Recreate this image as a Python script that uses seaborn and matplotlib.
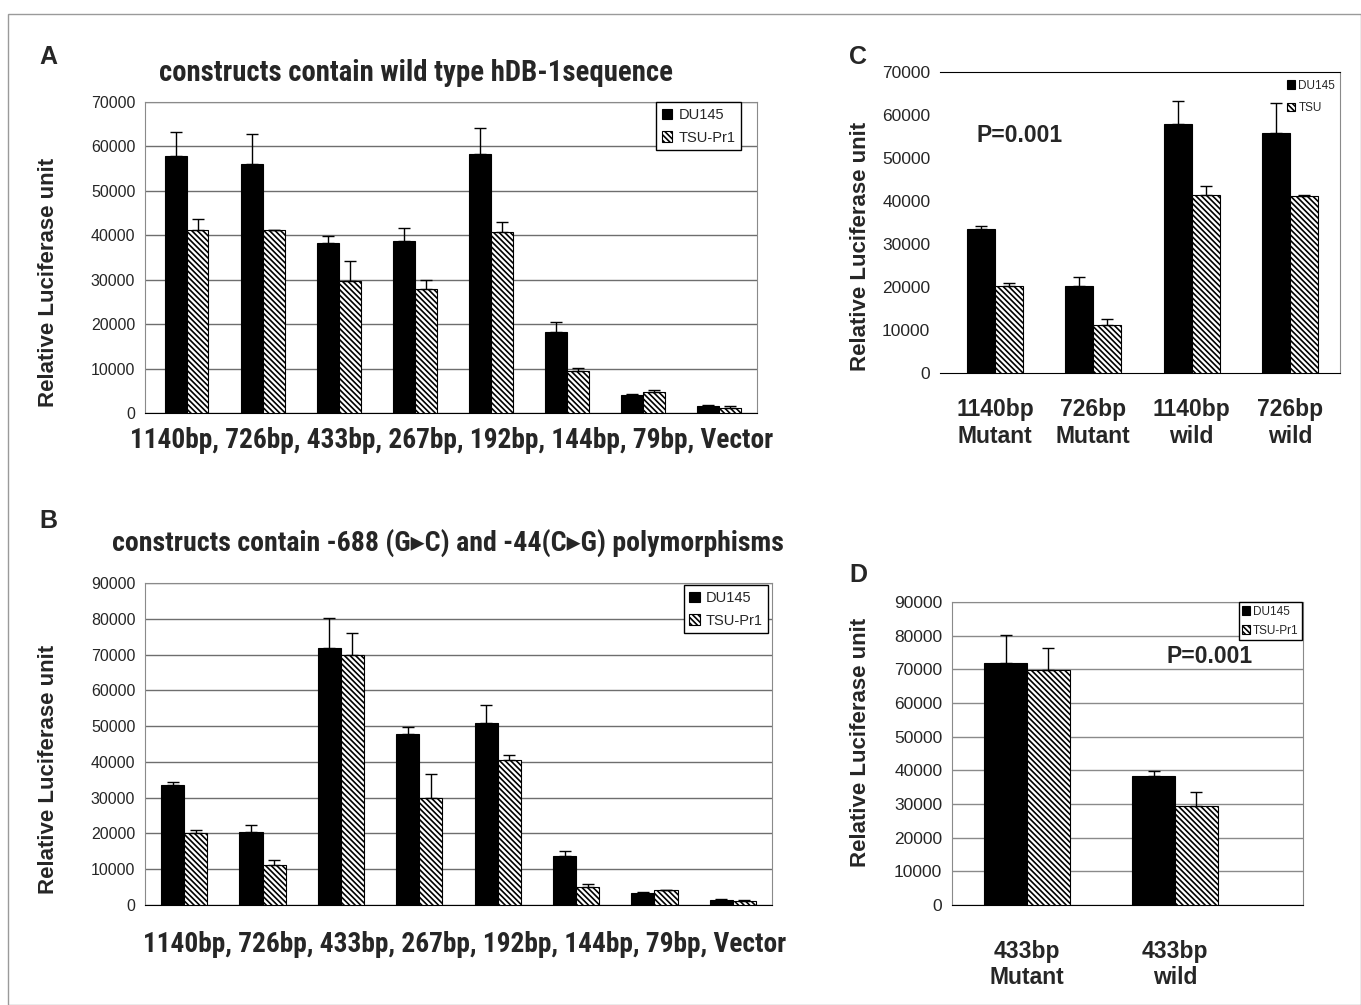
import numpy as np
import pandas as pd
import matplotlib.pyplot as plt
import seaborn as sns
from matplotlib import font_manager
from matplotlib.patches import Rectangle

# ---- data ----
constructs = ['1140bp', '726bp', '433bp', '267bp', '192bp', '144bp', '79bp', 'Vector']

a_du145 = [57800, 56000, 38300, 38800, 58200, 18300, 4000, 1600]
a_du145_err = [5500, 6900, 1500, 2800, 6000, 2200, 200, 100]
a_tsu = [41300, 41100, 29800, 27800, 40700, 9400, 4700, 1200]
a_tsu_err = [2400, 200, 4300, 2100, 2300, 800, 400, 300]

b_du145 = [33500, 20300, 71800, 47700, 50900, 13800, 3400, 1400]
b_du145_err = [900, 2100, 8500, 2000, 5000, 1200, 300, 200]
b_tsu = [20000, 11100, 69800, 29900, 40500, 4900, 4100, 1100]
b_tsu_err = [1100, 1400, 6300, 6800, 1500, 1000, 200, 400]

c_groups = ['1140bp\nMutant', '726bp\nMutant', '1140bp\nwild', '726bp\nwild']
c_du145 = [33500, 20200, 57800, 55900]
c_du145_err = [800, 2200, 5500, 7000]
c_tsu = [20200, 11200, 41300, 41100]
c_tsu_err = [800, 1400, 2200, 300]

d_groups = ['433bp\nMutant', '433bp\nwild']
d_du145 = [72000, 38400]
d_du145_err = [8300, 1400]
d_tsu = [69800, 29500]
d_tsu_err = [6500, 4200]

W, H = 1361, 1005

sns.set_style('white')
plt.rcParams['font.family'] = ['Liberation Sans', 'DejaVu Sans']
plt.rcParams['hatch.linewidth'] = 1.2

# narrow bold face for the long titles / x labels (Arial Narrow in the original)
names = {f.name for f in font_manager.fontManager.ttflist}
narrow = None
for cand in ['Liberation Sans Narrow', 'Roboto Condensed', 'Open Sans Condensed']:
    if cand in names:
        narrow = dict(family=[cand, 'DejaVu Sans'])
        break
if narrow is None:
    narrow = dict(family=['DejaVu Sans'], fontstretch='condensed')


def fx(px):
    return px / W


def fy(py):
    return 1 - py / H


def axes_box(left, top, right, bottom):
    return [fx(left), fy(bottom), (right - left) / W, (bottom - top) / H]


def draw_panel(ax, cats, du, du_err, tsu, tsu_err, cells, width):
    df = pd.DataFrame({
        'construct': cats * 2,
        'cell': [cells[0]] * len(cats) + [cells[1]] * len(cats),
        'value': du + tsu,
    })
    sns.barplot(data=df, x='construct', y='value', hue='cell', order=cats,
                hue_order=cells, palette={cells[0]: 'black', cells[1]: 'white'},
                saturation=1, edgecolor='black', linewidth=0.8, width=width,
                errorbar=None, legend=False, ax=ax, zorder=3)
    for bar in ax.containers[1]:
        bar.set_hatch('\\' * 6)
    # Excel style: only the upper half of the error bar
    for cont, errs in zip(list(ax.containers)[:2], [du_err, tsu_err]):
        xs = [b.get_x() + b.get_width() / 2 for b in cont]
        ys = [b.get_height() for b in cont]
        ax.errorbar(xs, ys, yerr=[np.zeros(len(errs)), errs], fmt='none',
                    ecolor='black', elinewidth=1, capsize=4, capthick=1, zorder=4)
    return [ax.containers[0][0], ax.containers[1][0]]


fig = plt.figure(figsize=(W / 100, H / 100), dpi=100)
fig.patches.append(Rectangle((fx(8), 0), 1 - fx(8), fy(14), transform=fig.transFigure,
                             fill=False, edgecolor='#9a9a9a', lw=1))

ylabel_kw = dict(fontsize=16, fontweight='bold')
grey = '#8a8a8a'
xlab_text = '1140bp, 726bp, 433bp, 267bp, 192bp, 144bp, 79bp, Vector'

# ---- A ----
axA = fig.add_axes(axes_box(145, 102, 757, 413))
hA = draw_panel(axA, constructs, a_du145, a_du145_err, a_tsu, a_tsu_err,
                ['DU145', 'TSU-Pr1'], 0.57)
axA.set_ylim(0, 70000)
axA.set_yticks(np.arange(0, 70001, 10000))
axA.set_xlim(-0.55, 7.5)
axA.set_xticks(range(len(constructs)))
axA.set_xticklabels([])
axA.legend(handles=hA, labels=['DU145', 'TSU-Pr1'], loc='upper right',
           bbox_to_anchor=(0.974, 1.0), borderaxespad=0, fancybox=False,
           edgecolor='black', framealpha=1, fontsize=10.5, handlelength=0.7,
           handleheight=0.7, handletextpad=0.4, borderpad=0.4, labelspacing=0.6)
xlabA = fig.text(fx(452), fy(441), xlab_text, ha='center', va='center',
                 fontsize=16, fontweight='bold', **narrow)
axA.set_ylabel('Relative Luciferase unit', **ylabel_kw)
axA.yaxis.set_label_coords(-0.1405, 0.42)
titleA = fig.text(fx(416), fy(73), 'constructs contain wild type hDB-1sequence',
                  ha='center', va='center', fontsize=16, fontweight='bold', **narrow)

# ---- B ----
axB = fig.add_axes(axes_box(145, 583, 772, 905))
hB = draw_panel(axB, constructs, b_du145, b_du145_err, b_tsu, b_tsu_err,
                ['DU145', 'TSU-Pr1'], 0.59)
axB.set_ylim(0, 90000)
axB.set_yticks(np.arange(0, 90001, 10000))
axB.set_xlim(-0.5, 7.5)
axB.set_xticks(range(len(constructs)))
axB.set_xticklabels([])
axB.legend(handles=hB, labels=['DU145', 'TSU-Pr1'], loc='upper right',
           bbox_to_anchor=(0.994, 0.994), borderaxespad=0, fancybox=False,
           edgecolor='black', framealpha=1, fontsize=10.5, handlelength=0.7,
           handleheight=0.7, handletextpad=0.4, borderpad=0.4, labelspacing=0.6)
xlabB = fig.text(fx(465), fy(944), xlab_text, ha='center', va='center',
                 fontsize=16, fontweight='bold', **narrow)
axB.set_ylabel('Relative Luciferase unit', **ylabel_kw)
axB.yaxis.set_label_coords(-0.137, 0.42)
titleB = fig.text(fx(448), fy(543),
                  'constructs contain -688 (G\u25b8C) and -44(C\u25b8G) polymorphisms',
                  ha='center', va='center', fontsize=16, fontweight='bold', **narrow)

for ax in (axA, axB):
    ax.yaxis.grid(True, color='#6e6e6e', lw=1)
    ax.set_axisbelow(True)
    for s in ('left', 'right', 'top'):
        ax.spines[s].set_color(grey)
    ax.spines['bottom'].set_color('black')
    ax.tick_params(axis='y', labelsize=11.5, length=4, color=grey, pad=3)
    ax.tick_params(axis='x', length=0)
    ax.set_xlabel('')

# ---- C ----
axC = fig.add_axes(axes_box(940, 72, 1340, 373))
hC = draw_panel(axC, c_groups, c_du145, c_du145_err, c_tsu, c_tsu_err,
                ['DU145', 'TSU'], 0.57)
axC.set_ylim(0, 70000)
axC.set_yticks(np.arange(0, 70001, 10000))
axC.set_xlim(-0.56, 3.51)
axC.spines['left'].set_visible(False)
axC.spines['top'].set_color('black')
axC.spines['right'].set_color(grey)
axC.spines['bottom'].set_color('black')
axC.tick_params(axis='y', labelsize=12.5, length=3, color=grey, pad=4)
axC.tick_params(axis='x', length=0, pad=18, labelsize=16.5)
for t in axC.get_xticklabels():
    t.set_fontweight('bold')
axC.set_xlabel('')
axC.legend(handles=hC, labels=['DU145', 'TSU'], loc='upper right',
           bbox_to_anchor=(1.0, 0.99), borderaxespad=0, frameon=False,
           fontsize=8.5, handlelength=0.7, handleheight=0.7, handletextpad=0.3,
           labelspacing=0.9)
axC.set_ylabel('Relative Luciferase unit', **ylabel_kw)
axC.yaxis.set_label_coords(-0.1725, 0.419)
axC.text(0.2, 0.79, 'P=0.001', transform=axC.transAxes, ha='center', va='center',
         fontsize=16.5, fontweight='bold')

# ---- D ----
axD = fig.add_axes(axes_box(952, 602, 1303, 905))
hD = draw_panel(axD, d_groups, d_du145, d_du145_err, d_tsu, d_tsu_err,
                ['DU145', 'TSU-Pr1'], 0.58)
axD.set_ylim(0, 90000)
axD.set_yticks(np.arange(0, 90001, 10000))
axD.set_xlim(-0.507, 1.865)
axD.yaxis.grid(True, color='#8a8a8a', lw=1)
axD.set_axisbelow(True)
for s in ('left', 'right', 'top'):
    axD.spines[s].set_color(grey)
axD.spines['bottom'].set_color('black')
axD.tick_params(axis='y', labelsize=12.5, length=3, color=grey, pad=4)
axD.tick_params(axis='x', length=0, pad=25, labelsize=16.5)
for t in axD.get_xticklabels():
    t.set_fontweight('bold')
axD.set_xlabel('')
axD.legend(handles=hD, labels=['DU145', 'TSU-Pr1'], loc='upper right',
           bbox_to_anchor=(0.997, 1.0), borderaxespad=0, fancybox=False,
           edgecolor='black', framealpha=1, fontsize=8.5, handlelength=0.7,
           handleheight=0.7, handletextpad=0.2, borderpad=0.3, labelspacing=0.6)
axD.set_ylabel('Relative Luciferase unit', **ylabel_kw)
axD.yaxis.set_label_coords(-0.231, 0.538)
axD.text(0.735, 0.82, 'P=0.001', transform=axD.transAxes, ha='center', va='center',
         fontsize=16.5, fontweight='bold')

# panel letters
for letter, (px, py) in {'A': (48, 57), 'B': (48, 521), 'C': (858, 57), 'D': (858, 575)}.items():
    fig.text(fx(px), fy(py), letter, ha='center', va='center', fontsize=18, fontweight='bold')

# scale the narrow-font texts so they span the same width as in the original
renderer = fig.canvas.get_renderer()
for txt, target in [(titleA, 512), (xlabA, 645), (titleB, 672), (xlabB, 645)]:
    w = txt.get_window_extent(renderer).width
    txt.set_fontsize(txt.get_fontsize() * target / w)

fig.savefig('out.png', dpi=100, facecolor='white')
